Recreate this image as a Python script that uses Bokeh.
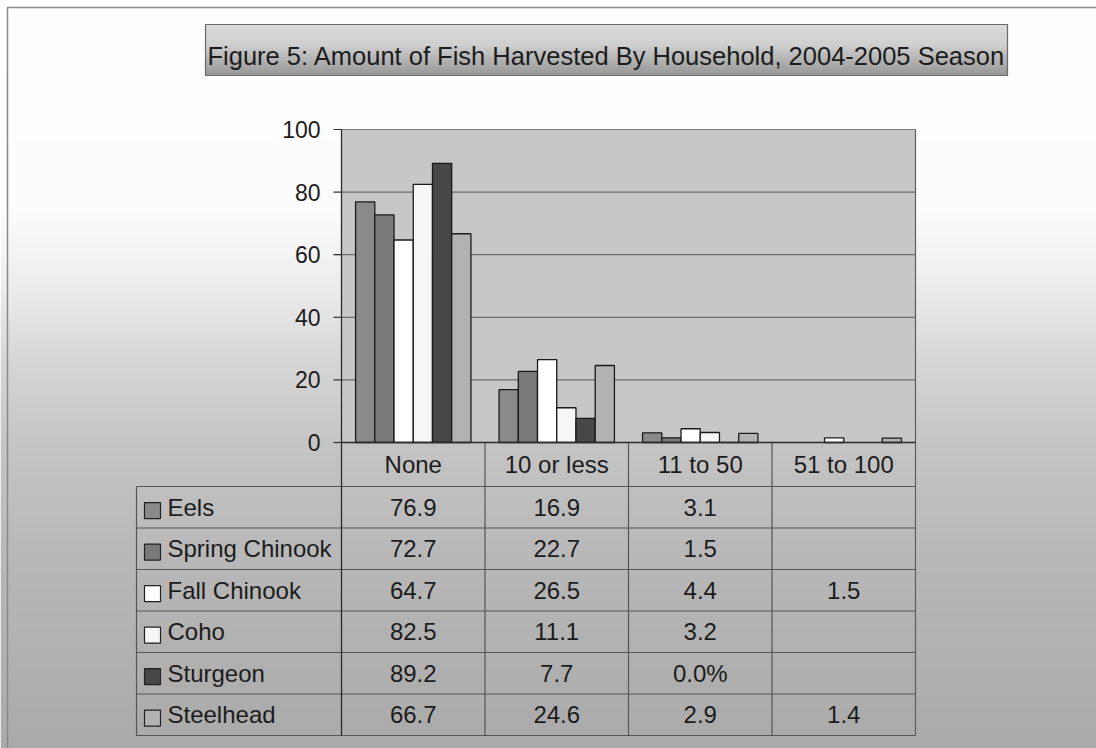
import numpy as np
from bokeh.plotting import figure
from bokeh.models import (Range1d, FactorRange, CategoricalScale, LinearScale,
                          ColumnDataSource, CoordinateMapping)
from bokeh.transform import dodge
from bokeh.core.properties import value
from bokeh.embed import file_html
from bokeh.resources import INLINE

# ---------------- data ----------------
title = "Figure 5: Amount of Fish Harvested By Household, 2004-2005 Season"
categories = ["None", "10 or less", "11 to 50", "51 to 100"]
series = ["Eels", "Spring Chinook", "Fall Chinook", "Coho", "Sturgeon", "Steelhead"]
eels = [76.9, 16.9, 3.1, None]
spring_chinook = [72.7, 22.7, 1.5, None]
fall_chinook = [64.7, 26.5, 4.4, 1.5]
coho = [82.5, 11.1, 3.2, None]
sturgeon = [89.2, 7.7, 0.0, None]
steelhead = [66.7, 24.6, 2.9, 1.4]
y_ticks = [0, 20, 40, 60, 80, 100]
label_overrides = {("Sturgeon", "11 to 50"): "0.0%"}

series_values = [eels, spring_chinook, fall_chinook, coho, sturgeon, steelhead]
series_colors = ["#8a8a8a", "#7a7a7a", "#ffffff", "#f6f6f6", "#474747", "#b2b2b2"]

# ---------------- layout (pixels) ----------------
W, H = 1096, 748
PL, PR, PT, PB = 341, 915, 129, 442      # plot area
TL, HB, TB = 136, 486, 735               # table left, header bottom, table bottom
FONT = "Liberation Sans"
TXT = "#1c1c1c"

p = figure(width=W, height=H, x_range=Range1d(0, W), y_range=Range1d(H, 0),
           output_backend="svg", toolbar_location=None,
           x_axis_location=None, y_axis_location=None,
           min_border=0, min_border_left=0, min_border_right=0,
           min_border_top=0, min_border_bottom=0)
p.grid.visible = False
p.outline_line_color = None
p.background_fill_color = "#ffffff"
p.border_fill_color = "#ffffff"


def mapping(xs, ys, xt, yt):
    xsc = CategoricalScale() if isinstance(xs, FactorRange) else LinearScale()
    ysc = CategoricalScale() if isinstance(ys, FactorRange) else LinearScale()
    return CoordinateMapping(x_source=xs, y_source=ys, x_scale=xsc, y_scale=ysc,
                             x_target=xt, y_target=yt)


def on(cm, r):
    r.coordinates = cm
    return r


# background vertical gradient
ys = np.arange(0, H, 4)
gv = np.interp(ys + 2, [0, 210, 290, 360, 450, 560, 748],
               [255, 252, 236, 214, 196, 184, 170])
p.quad(left=0, right=W, top=ys, bottom=ys + 4.5,
       fill_color=["#%02x%02x%02x" % (int(v), int(v), int(v)) for v in gv],
       line_color=None)
# outer frame
p.quad(left=7, right=W + 10, top=7, bottom=H + 10, fill_color=None,
       line_color="#8a8a8a", line_width=1.5)

# title box with gradient
TX0, TX1, TY0, TY1 = 205, 1007, 24, 75
ty = np.arange(TY0, TY1, 3)
tv = np.interp(ty + 1.5, [TY0, TY0 + 20, TY1 - 6, TY1], [218, 208, 162, 150])
p.quad(left=TX0, right=TX1, top=ty, bottom=ty + 3.5,
       fill_color=["#%02x%02x%02x" % (int(v), int(v), int(v)) for v in tv],
       line_color=None)
p.quad(left=TX0, right=TX1, top=TY0, bottom=TY1, fill_color=None,
       line_color="#6a6a6a", line_width=1.2)
p.text(x=[(TX0 + TX1) / 2], y=[55], text=[title], text_align="center",
       text_baseline="alphabetic", text_font=value(FONT), text_font_size="25.5px",
       text_color=TXT)

# plot area
p.quad(left=PL, right=PR, top=PT, bottom=PB, fill_color="#c7c7c7", line_color=None)

# y scale mapping (pixel x, data y)
yax = mapping(Range1d(0, W), Range1d(0, 100), Range1d(0, W), Range1d(PB, PT))
grid_y = [t for t in y_ticks if 0 < t < 100]
on(yax, p.segment(x0=PL, x1=PR, y0=grid_y, y1=grid_y, line_color="#575757", line_width=1))
on(yax, p.segment(x0=PL, x1=PR, y0=[y_ticks[-1]], y1=[y_ticks[-1]],
                  line_color="#7a7a7a", line_width=1.2))
on(yax, p.segment(x0=PL - 8, x1=PL, y0=y_ticks, y1=y_ticks, line_color="#333333", line_width=1.2))
on(yax, p.text(x=320, y=y_ticks, text=[str(t) for t in y_ticks], text_align="right",
               text_baseline="middle", text_font=value(FONT), text_font_size="23px",
               text_color=TXT))

# bars (categorical mapping)
cat_range = FactorRange(factors=categories, range_padding=0)
bars = mapping(cat_range, Range1d(0, 100), Range1d(PL, PR), Range1d(PB, PT))
data = {"cat": categories}
for name, vals in zip(series, series_values):
    data[name] = [np.nan if v is None else v for v in vals]
src = ColumnDataSource(data)
n = len(series)
bw = 0.134
for i, (name, col) in enumerate(zip(series, series_colors)):
    off = (i - (n - 1) / 2) * bw
    on(bars, p.vbar(x=dodge("cat", off, range=cat_range), top=name, bottom=0, width=bw,
                    source=src, fill_color=col, line_color="#1a1a1a", line_width=1.3))

# table grid lines
ncat = len(categories)
grid = mapping(Range1d(0, ncat), Range1d(0, n), Range1d(PL, PR), Range1d(HB, TB))
xl = (TL - PL) / ((PR - PL) / ncat)
rows = list(range(n + 1))
on(grid, p.segment(x0=xl, x1=ncat, y0=rows, y1=rows, line_color="#555555", line_width=1.2))
cols = list(range(1, ncat))
on(grid, p.segment(x0=cols, x1=cols, y0=-(HB - PB) / ((TB - HB) / n), y1=n,
                   line_color="#555555", line_width=1.2))
on(grid, p.segment(x0=[xl], x1=[xl], y0=[0], y1=[n], line_color="#555555", line_width=1.2))
# right border (plot + table)
p.segment(x0=[PR], x1=[PR], y0=[PT], y1=[TB], line_color="#5e5e5e", line_width=1.2)
# axis line and baseline
p.segment(x0=[PL], x1=[PL], y0=[PT], y1=[TB], line_color="#2a2a2a", line_width=1.3)
on(yax, p.segment(x0=[PL], x1=[PR], y0=[0], y1=[0], line_color="#2a2a2a", line_width=1.3))

# header row (category labels)
hdr = mapping(FactorRange(factors=categories, range_padding=0), Range1d(0, 1),
              Range1d(PL, PR), Range1d(PB, HB))
on(hdr, p.text(x=categories, y=[0.5] * ncat, text=categories, text_align="center",
               text_baseline="middle", text_font=value(FONT), text_font_size="24px",
               text_color=TXT))

# table cells
tx, tyv, tt = [], [], []
for name, vals in zip(series, series_values):
    for c, v in zip(categories, vals):
        if v is None:
            continue
        tx.append(c)
        tyv.append(name)
        tt.append(label_overrides.get((name, c), f"{v:.1f}"))
tbl = mapping(FactorRange(factors=categories, range_padding=0),
              FactorRange(factors=series, range_padding=0),
              Range1d(PL, PR), Range1d(HB, TB))
on(tbl, p.text(x=tx, y=tyv, text=tt, text_align="center", text_baseline="middle",
               text_font=value(FONT), text_font_size="24px", text_color=TXT))

# legend column
leg_range = FactorRange(factors=series, range_padding=0)
leg = mapping(Range1d(0, W), leg_range, Range1d(0, W), Range1d(HB, TB))
lsrc = ColumnDataSource(dict(name=series, color=series_colors))
on(leg, p.scatter(x=152, y=dodge("name", 0.08, range=leg_range), marker="square", size=16,
                  fill_color="color", line_color="#222222", line_width=1.2, source=lsrc))
on(leg, p.text(x=167, y="name", text="name", text_align="left", text_baseline="middle",
               text_font=value(FONT), text_font_size="24px", text_color=TXT, source=lsrc))

open("out.html", "w").write(file_html(p, INLINE))
